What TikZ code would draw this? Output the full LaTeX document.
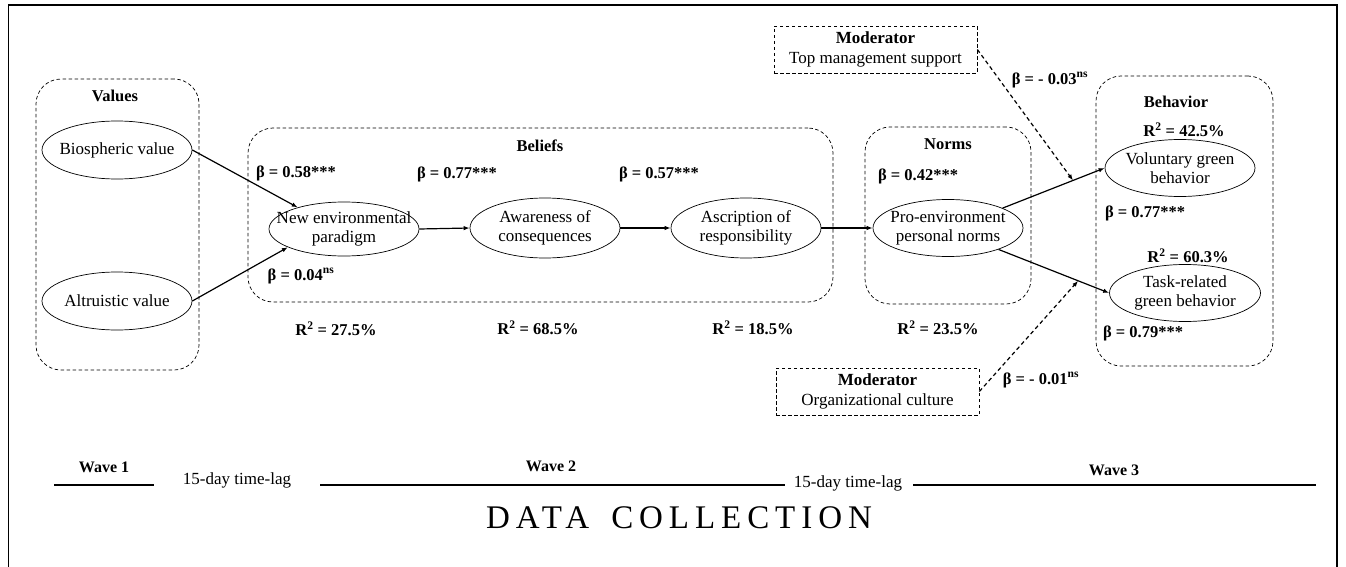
\documentclass[tikz,border=0pt]{standalone}
\usepackage{fontspec}
\setmainfont{Liberation Serif}
\usetikzlibrary{arrows.meta,shapes.geometric}

\begin{document}
\begin{tikzpicture}[x=1pt,y=-1pt,
  ell/.style={draw, ellipse, line width=0.7pt, minimum width=150pt,
    minimum height=58pt, inner sep=0pt},
  elltext/.style={align=center, font=\fontsize{17}{19}\selectfont, inner sep=0pt},
  grp/.style={draw, dash pattern=on 3.5pt off 2.5pt, rounded corners=25pt,
    line width=0.7pt, inner sep=0pt},
  grptitle/.style={font=\bfseries\fontsize{16.5}{19}\selectfont, inner sep=0pt},
  modbox/.style={draw, dash pattern=on 3.5pt off 2.5pt, line width=0.7pt,
    inner sep=0pt, minimum width=203pt, minimum height=47pt, align=center,
    font=\fontsize{17}{20}\selectfont},
  coef/.style={font=\bfseries\fontsize{16.5}{19}\selectfont, inner sep=0pt},
  plain/.style={font=\fontsize{17}{19}\selectfont, inner sep=0pt},
  conn/.style={line width=1.2pt, -{Latex[length=6pt,width=4.5pt]}},
  modarrow/.style={conn, dash pattern=on 4pt off 3pt},
  wave/.style={line width=2.6pt}
]
\useasboundingbox (0,0) rectangle (1346,567);

% outer frame
\draw[line width=1.2pt] (8.5,567) -- (8.5,5) -- (1337,5) -- (1337,567);

% construct groups
\node[grp, minimum width=163pt, minimum height=291pt] (gvalues) at (117.5,224.5) {};
\node[grp, minimum width=585pt, minimum height=174pt] (gbeliefs) at (540.5,215) {};
\node[grp, minimum width=166pt, minimum height=177pt] (gnorms) at (948,215.5) {};
\node[grp, minimum width=177pt, minimum height=290pt] (gbehav) at (1184.5,221) {};

\node[grptitle] (tvalues) at (115,96) {Values};
\node[grptitle] (tbeliefs) at (540,146) {Beliefs};
\node[grptitle] (tnorms) at (948,144) {Norms};
\node[grptitle] (tbehav) at (1176,102) {Behavior};

% latent variables
\node[ell, label={[elltext]center:Biospheric value}] (bio) at (117,150) {};
\node[ell, label={[elltext]center:Altruistic value}] (alt) at (117,301) {};
\node[ell, minimum height=54pt, label={[elltext]center:New environmental\\paradigm}] (nep) at (344,229) {};
\node[ell, minimum height=60pt, label={[elltext]center:Awareness of\\consequences}] (aware) at (545,228) {};
\node[ell, minimum height=60pt, label={[elltext]center:Ascription of\\responsibility}] (ascr) at (746,228) {};
\node[ell, minimum height=57pt, label={[elltext]center:Pro-environment\\personal norms}] (pro) at (948,228) {};
\node[ell, minimum height=57pt, label={[elltext]center:Voluntary green\\behavior}] (vol) at (1180,168) {};
\node[ell, minimum height=57pt, minimum width=151pt, label={[elltext]center:Task-related\\green behavior}] (task) at (1185,293) {};

% moderators
\node[modbox] (mod1) at (875.5,49.5) {\textbf{Moderator}\\Top management support};
\node[modbox] (mod2) at (877.5,391.5) {\textbf{Moderator}\\Organizational culture};

% paths
\draw[conn] (bio.east) -- (nep.155);
\draw[conn] (alt.east) -- (nep.198);
\draw[conn] (nep.east) -- (aware.west);
\draw[conn] (aware.east) -- (ascr.west);
\draw[conn] (ascr.east) -- (pro.west);
\draw[conn] (pro.20) -- (vol.west) coordinate[pos=0.69] (m1);
\draw[conn] (pro.337) -- (task.west) coordinate[pos=0.72] (m2);
\draw[modarrow] (mod1.east) -- (m1);
\draw[modarrow] (mod2.east) -- (m2);

% coefficients
\node[coef] (b1) at (296,173) {β = 0.58***};
\node[coef] (b2) at (301,276) {β = 0.04\textsuperscript{ns}};
\node[coef] (b3) at (457,174) {β = 0.77***};
\node[coef] (b4) at (659,174) {β = 0.57***};
\node[coef] (b5) at (918,176) {β = 0.42***};
\node[coef] (b6) at (1145,213) {β = 0.77***};
\node[coef] (b7) at (1143,333) {β = 0.79***};
\node[coef] (b8) at (1050,80) {β = - 0.03\textsuperscript{ns}};
\node[coef] (b9) at (1041,380) {β = - 0.01\textsuperscript{ns}};

% explained variance
\node[coef] (r1) at (336,329) {R\textsuperscript{2} = 27.5\%};
\node[coef] (r2) at (538,328) {R\textsuperscript{2} = 68.5\%};
\node[coef] (r3) at (753,328) {R\textsuperscript{2} = 18.5\%};
\node[coef] (r4) at (938,328) {R\textsuperscript{2} = 23.5\%};
\node[coef] (r5) at (1184,130) {R\textsuperscript{2} = 42.5\%};
\node[coef] (r6) at (1188,256) {R\textsuperscript{2} = 60.3\%};

% data collection timeline
\coordinate (w1a) at (54,485);  \coordinate (w1b) at (154,485);
\coordinate (w2a) at (320,485); \coordinate (w2b) at (785,485);
\coordinate (w3a) at (913,485); \coordinate (w3b) at (1316,485);
\draw[wave] (w1a) -- (w1b);
\draw[wave] (w2a) -- (w2b);
\draw[wave] (w3a) -- (w3b);
\node[coef, font=\bfseries\fontsize{16}{19}\selectfont] (wave1) at (104,467) {Wave 1};
\node[coef, font=\bfseries\fontsize{16}{19}\selectfont] (wave2) at (551,466) {Wave 2};
\node[coef, font=\bfseries\fontsize{16}{19}\selectfont] (wave3) at (1114,470) {Wave 3};
\node[plain] (lag1) at (237,480) {15-day time-lag};
\node[plain] (lag2) at (848,483) {15-day time-lag};
\node[inner sep=0pt, font=\fontsize{33}{36}\selectfont\addfontfeature{LetterSpace=18}] (dc) at (679,518) {DATA\hspace{22pt}COLLECTION};
\end{tikzpicture}
\end{document}
